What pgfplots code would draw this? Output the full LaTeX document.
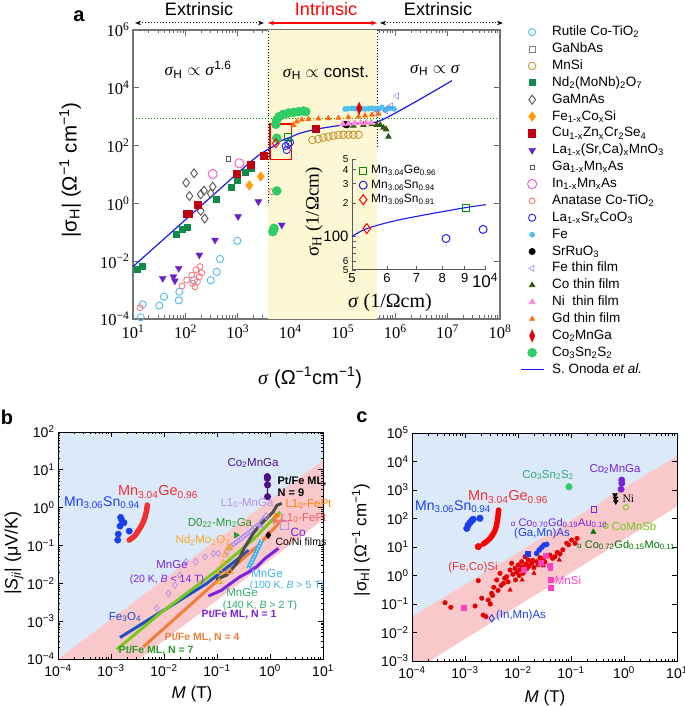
\documentclass[border=0pt]{standalone}
\usepackage{pgfplots}
\pgfplotsset{compat=1.18}
\usepackage{fontspec}
\setmainfont{Liberation Sans}
\newfontfamily\serif{Liberation Serif}
\usetikzlibrary{arrows.meta}
\definecolor{cRut}{HTML}{4FB8F0}
\definecolor{cGray}{HTML}{808080}
\definecolor{cMnSi}{HTML}{C8963C}
\definecolor{cNd}{HTML}{0E8A4A}
\definecolor{cGaMnAs}{HTML}{555555}
\definecolor{cFeCoSi}{HTML}{FFA010}
\definecolor{cCu}{HTML}{C00010}
\definecolor{cLa}{HTML}{6A20C8}
\definecolor{cIn}{HTML}{FF50D0}
\definecolor{cAna}{HTML}{FF7878}
\definecolor{cLaSr}{HTML}{2020F0}
\definecolor{cFe}{HTML}{4FC0F0}
\definecolor{cFeTF}{HTML}{7070F0}
\definecolor{cCoTF}{HTML}{2E5A10}
\definecolor{cNiTF}{HTML}{FF88DD}
\definecolor{cGdTF}{HTML}{FF6A10}
\definecolor{cCo2}{HTML}{E00010}
\definecolor{cCSS}{HTML}{30CC66}
\definecolor{cOnoda}{HTML}{1A1AF0}
\definecolor{cYel}{HTML}{FDF8D4}
\definecolor{cBg}{HTML}{DCE9F9}
\definecolor{cPink}{HTML}{F9C8CA}
\definecolor{cBlue}{HTML}{1A3FF0}
\definecolor{cRed}{HTML}{F03030}
\definecolor{cLav}{HTML}{B490F0}
\definecolor{cPurp}{HTML}{7A22E0}
\definecolor{cDPurp}{HTML}{4B0F8C}
\definecolor{cYG}{HTML}{78C81E}
\definecolor{cOr}{HTML}{F07D3A}
\definecolor{cDG}{HTML}{2A9A2A}
\definecolor{cNdO}{HTML}{F5A623}
\definecolor{cFe3}{HTML}{1F4FC0}
\definecolor{cCyan}{HTML}{3FB2EE}
\definecolor{cMag}{HTML}{FF40C0}
\definecolor{cGreenLab}{HTML}{2EAA70}
\newcommand{\fs}[1]{\fontsize{#1}{#1}\selectfont}
\newcommand{\expl}[1]{\pgfmathtruncatemacro\ee{round(#1)}10\textsuperscript{\ifnum\ee<0 −\number-\ee\else\ee\fi}}
\begin{document}
\begin{tikzpicture}[x=1pt,y=1pt]
\useasboundingbox (0,0) rectangle (685,707);
% ================= PANEL A =================
\begin{axis}[
  at={(133pt,388pt)}, anchor=south west, scale only axis, width=367pt, height=289pt,
  xmode=log, ymode=log, log basis x=10, log basis y=10,
  xmin=10, xmax=1e8, ymin=1e-4, ymax=1e6,
  xtick={1e1,1e2,1e3,1e4,1e5,1e6,1e7,1e8},
  minor xtick={2e1,3e1,4e1,5e1,6e1,7e1,8e1,9e1,2e2,3e2,4e2,5e2,6e2,7e2,8e2,9e2,2e3,3e3,4e3,5e3,6e3,7e3,8e3,9e3,2e4,3e4,4e4,5e4,6e4,7e4,8e4,9e4,2e5,3e5,4e5,5e5,6e5,7e5,8e5,9e5,2e6,3e6,4e6,5e6,6e6,7e6,8e6,9e6,2e7,3e7,4e7,5e7,6e7,7e7,8e7,9e7},
  ytick={1e-4,1e-2,1,1e2,1e4,1e6},
  xticklabel={\serif\expl{\tick}}, yticklabel={\serif\expl{\tick}},
  tick label style={font=\fs{16.5}},
  xticklabel style={yshift=-2pt},
  axis line style={draw=black!55, line width=1.1pt},
  tick style={draw=black!60, line width=0.8pt},
  major tick length=6pt, minor tick length=3.5pt,
  legend style={at={(1,1)}, anchor=north west, xshift=17pt, yshift=7.5pt, draw=none, fill=none,
    font=\fs{13.5}, row sep=1.87pt, column sep=7pt, nodes={inner sep=1pt, text height=10pt, text depth=3pt}},
  legend cell align=left,
  mark options={line width=0.9pt},
]
\addplot[fill=cYel, draw=none, forget plot] coordinates {(3770,1e-4)(4.6e5,1e-4)(4.6e5,1e6)(3770,1e6)} --cycle;
\addplot[color=green!60!black, dotted, line width=1pt, forget plot] coordinates {(10,900)(1e8,900)};
\addplot[black, dotted, line width=0.9pt, forget plot] coordinates {(3770,1)(3770,1e6)};
\addplot[black, dotted, line width=0.9pt, forget plot] coordinates {(4.6e5,89)(4.6e5,1e6)};
\addplot[only marks, mark=o, mark size=3.6pt, color=cRut] coordinates {
(15.3,3.2e-4)(14,1.15e-4)(31.8,2.9e-4)(39,5.9e-4)(76.6,8.8e-4)(74.5,4.4e-4)(146,0.0022)(304,0.0022)(395,0.0043)(457,0.0119)(977,0.051)};
\addlegendentry{Rutile Co-TiO\textsubscript{2}}
\addlegendimage{only marks, mark=square, mark size=3pt, color=cGray}
\addlegendentry{GaNbAs}
\addplot[only marks, mark=o, mark size=3.8pt, color=cMnSi] coordinates {
(26400,156)(34400,169)(42800,188)(53300,203)(66500,220)(82800,233)(103000,238)(128000,238)(160000,238)(200000,238)};
\addlegendentry{MnSi}
\addplot[only marks, mark=square*, mark size=3pt, color=cNd] coordinates {
(12.1,0.0052)(15.3,0.0068)(66,0.085)(89,0.13)(109,0.144)(395,1.42)(765,3.6)(970,6.1)(1370,11.5)(1810,15.8)};
\addlegendentry{Nd\textsubscript{2}(MoNb)\textsubscript{2}O\textsubscript{7}}
\addplot[only marks, mark=diamond, mark size=4.5pt, color=cGaMnAs] coordinates {
(146,11.0)(103,5.2)(119,1.8)(196,2.07)(226,2.75)(332,3.8)(304,2.2)(196,0.55)(233,0.30)};
\addlegendentry{GaMnAs}
\addplot[only marks, mark=diamond*, mark size=4.5pt, color=cFeCoSi] coordinates {(1660,4.2)(2730,8.5)};
\addlegendentry{Fe\textsubscript{1-x}Co\textsubscript{x}Si}
\addplot[only marks, mark=square*, mark size=3.6pt, color=cCu] coordinates {
(1760,21.8)(970,10.4)(174,0.88)(117,0.43)(109,0.43)(3160,43.6)(30700,366)};
\addlegendentry{Cu\textsubscript{1-x}Zn\textsubscript{x}Cr\textsubscript{2}Se\textsubscript{4}}
\addplot[only marks, mark=triangle*, mark size=4pt, mark options={rotate=180}, color=cLa] coordinates {
(2460,1.15)(1010,0.35)(367,0.054)(184,0.0164)(74.5,0.0057)(36.9,0.00256)(59,0.0029)(63,0.0021)(6880,0.179)};
\addlegendentry{La\textsubscript{1-x}(Sr,Ca)\textsubscript{x}MnO\textsubscript{3}}
\addplot[only marks, mark=square, mark size=2.2pt, color=cGaMnAs] coordinates {(670,34)};
\addlegendentry{Ga\textsubscript{1-x}Mn\textsubscript{x}As}
\addplot[only marks, mark=o, mark size=4.6pt, color=cIn] coordinates {(1070,24.4)(332,10.4)};
\addlegendentry{In\textsubscript{1-x}Mn\textsubscript{x}As}
\addplot[only marks, mark=o, mark size=3pt, color=cAna] coordinates {
(13.6,2.45e-4)(86,0.00139)(106,0.0022)(132,0.0033)(159,0.0050)(190,0.0065)(205,0.0040)(184,0.0029)(169,0.00195)(152,0.0013)(138,0.0017)(4430,2.54)};
\addlegendentry{Anatase Co-TiO\textsubscript{2}}
\addplot[only marks, mark=o, mark size=3.6pt, color=cLaSr] coordinates {(8200,97)(9200,111)(9900,130)(8570,70)};
\addlegendentry{La\textsubscript{1-x}Sr\textsubscript{x}CoO\textsubscript{3}}
\addplot[only marks, mark=*, mark size=2.4pt, color=cFe] coordinates {
(111000,1850)(125000,1900)(149000,1950)(175000,1900)(200000,1950)(235000,1900)(267000,1850)(310000,1900)(359000,1950)(410000,1900)(480000,1850)(557000,2110)(644000,1710)(720000,1900)(803000,1950)(958000,1850)};
\addlegendentry{Fe}
\addplot[only marks, mark=*, mark size=3pt, color=black] coordinates {(111000,546)(120000,520)};
\addlegendentry{SrRuO\textsubscript{3}}
\addplot[only marks, mark=triangle, mark size=3.5pt, mark options={rotate=-30}, color=cFeTF] coordinates {
(1.08e6,5200)(828000,2400)(674000,1610)(415000,1310)(480000,1490)};
\addlegendentry{Fe thin film}
\addplot[only marks, mark=triangle*, mark size=3pt, color=cCoTF] coordinates {
(160000,489)(248000,516)(359000,546)(448000,516)(518000,516)(599000,416)(674000,366)(745000,203)};
\addlegendentry{Co thin film}
\addplot[only marks, mark=triangle*, mark size=3.2pt, color=cNiTF] coordinates {
(100000,560)(130000,580)(170000,590)(220000,600)(280000,610)(350000,620)};
\addlegendentry{Ni\ \ thin film}
\addplot[only marks, mark=triangle*, mark size=2.6pt, color=cGdTF] coordinates {
(11500,516)(13300,671)(16600,787)(22100,832)(34400,853)(53300,881)(82800,902)(128000,953)(200000,1000)(267000,1080)(359000,1150)(480000,1240)};
\addlegendentry{Gd thin film}
\addplot[color=cCo2, line width=1pt, forget plot] coordinates {(206000,1430)(206000,2530)};
\addplot[only marks, mark=diamond*, mark size=3.6pt, mark options={yscale=1.7}, color=cCo2] coordinates {(206000,1950)};
\addlegendentry{Co\textsubscript{2}MnGa}
\addplot[only marks, mark=*, mark size=4.3pt, color=cCSS] coordinates {
(5290,546)(5520,770)(6110,1000)(7380,1210)(9200,1340)(11500,1420)(14300,1490)(17800,1570)(19800,1490)(5520,179)(5520,2.7)(4630,0.105)(4910,0.137)};
\addlegendentry{Co\textsubscript{3}Sn\textsubscript{2}S\textsubscript{2}}
\addplot[only marks, mark=square, mark size=3.4pt, color=green!55!black, forget plot] coordinates {(8950,205)};
\addplot[only marks, mark=diamond, mark size=4.5pt, color=red, forget plot] coordinates {(5290,120)};
\addplot[color=red, line width=1.2pt, forget plot] coordinates {(4100,34)(10700,34)(10700,560)(4100,560)(4100,34)};
\addplot[color=cOnoda, line width=1.2pt, smooth, forget plot] coordinates {
(10,0.0065)(1000,11.3)(2130,37)(3000,58)(5000,100)(6420,142)(8790,179)(10050,194)(15000,265)(30700,366)(60000,450)(173000,592)(557000,770)(1.21e7,17600)};
\addlegendimage{legend image code/.code={\draw[draw=cOnoda, line width=1.2pt] (-0.1cm,0cm) -- (0.7cm,0cm);}}
\addlegendentry{S. Onoda \textit{et al.}}
\end{axis}
% ================= INSET =================
\begin{axis}[
  at={(352pt,437pt)}, anchor=south west, scale only axis, width=133pt, height=111pt,
  xmode=log, ymode=log, log basis x=10, log basis y=10,
  xmin=5000, xmax=10000, ymin=50, ymax=500, clip=false,
  axis x line*=bottom, axis y line*=left,
  axis line style={draw=black!65, line width=1pt},
  xtick={5000,6000,7000,8000,9000,10000},
  xticklabels={5,6,7,8,9,{\raisebox{-9pt}{\fs{17}10\textsuperscript{4}}}},
  ytick={50,60,70,80,90,100,200,300,400,500},
  yticklabels={5,6,,,,{\fs{15}100},2,3,4,5},
  tick label style={font=\fs{10}},
  xticklabel style={font=\fs{13}},
  tick style={draw=black!65, line width=0.7pt},
  major tick length=4pt, minor tick length=0pt,
  legend style={at={(0.03,0.98)}, anchor=north west, draw=none, fill=none, font=\fs{12},
    row sep=0pt, column sep=3pt, nodes={inner sep=1pt, text height=9.5pt, text depth=3pt}},
  legend cell align=left,
  mark options={line width=1pt},
]
\addplot[only marks, mark=square, mark size=3.6pt, color=green!55!black] coordinates {(9060,182)};
\addlegendentry{Mn\textsubscript{3.04}Ge\textsubscript{0.96}}
\addplot[only marks, mark=o, mark size=4pt, color=cLaSr] coordinates {(8160,96)(9900,116)};
\addlegendentry{Mn\textsubscript{3.06}Sn\textsubscript{0.94}}
\addplot[only marks, mark=diamond, mark size=5pt, color=red] coordinates {(5400,118)};
\addlegendentry{Mn\textsubscript{3.09}Sn\textsubscript{0.91}}
\addplot[color=cOnoda, line width=1.1pt, smooth, forget plot] coordinates {(5000,100)(5400,118)(6420,142)(8790,179)(10050,194)};
\end{axis}
% ---- panel a texts ----
\node[font=\bfseries\fs{20}] at (79pt,691pt) {a};
\node[font=\fs{18}] at (199pt,698pt) {Extrinsic};
\node[font=\fs{18}, text=red] at (326pt,698pt) {Intrinsic};
\node[font=\fs{18}] at (438pt,698pt) {Extrinsic};
\draw[{Stealth[length=6pt]}-{Stealth[length=6pt]}, dotted, line width=1pt] (135pt,684pt) -- (264pt,684pt);
\draw[{Stealth[length=6pt]}-{Stealth[length=6pt]}, red, line width=1.3pt] (268pt,684pt) -- (377pt,684pt);
\draw[{Stealth[length=6pt]}-{Stealth[length=6pt]}, dotted, line width=1pt] (380pt,684pt) -- (503pt,684pt);
\node[font=\fs{17}] at (198pt,637pt) {{\serif\textit{σ}}\textsubscript{H} $\propto$ {\serif\textit{σ}}\textsuperscript{1.6}};
\node[font=\fs{17}] at (326pt,634pt) {{\serif\textit{σ}}\textsubscript{H} $\propto$ const.};
\node[font=\fs{17}] at (435pt,637pt) {{\serif\textit{σ}}\textsubscript{H} $\propto$ {\serif\textit{σ}}};
\node[rotate=90, font=\fs{20.5}] at (70pt,537pt) {|σ\textsubscript{H}| (Ω\textsuperscript{−1} cm\textsuperscript{−1})};
\node[font=\fs{20}] at (310pt,329pt) {{\serif\textit{σ}} (Ω\textsuperscript{−1}cm\textsuperscript{−1})};
\node[rotate=90, font=\serif\fs{19}] at (314pt,495pt) {σ\textsubscript{H} (1/Ωcm)};
\node[font=\serif\fs{20}] at (390pt,404pt) {\textit{σ} (1/Ωcm)};
% ================= PANEL B =================
\begin{axis}[at={(58pt,48pt)}, anchor=south west, scale only axis, width=265pt, height=227pt,
  xmode=log, ymode=log, log basis x=10, log basis y=10,
  xmin=1e-4, xmax=10, ymin=1e-4, ymax=100,
  xtick={1e-4,1e-3,1e-2,1e-1,1,10}, ytick={1e-4,1e-3,1e-2,1e-1,1,10,100},
  minor xtick={2e-4,3e-4,4e-4,5e-4,6e-4,7e-4,8e-4,9e-4,2e-3,3e-3,4e-3,5e-3,6e-3,7e-3,8e-3,9e-3,2e-2,3e-2,4e-2,5e-2,6e-2,7e-2,8e-2,9e-2,2e-1,3e-1,4e-1,5e-1,6e-1,7e-1,8e-1,9e-1,2,3,4,5,6,7,8,9},
  minor ytick={2e-4,3e-4,4e-4,5e-4,6e-4,7e-4,8e-4,9e-4,2e-3,3e-3,4e-3,5e-3,6e-3,7e-3,8e-3,9e-3,2e-2,3e-2,4e-2,5e-2,6e-2,7e-2,8e-2,9e-2,2e-1,3e-1,4e-1,5e-1,6e-1,7e-1,8e-1,9e-1,2,3,4,5,6,7,8,9,20,30,40,50,60,70,80,90},
  xticklabel={\expl{\tick}}, yticklabel={\expl{\tick}}, tick label style={font=\fs{14}},
  xticklabel style={yshift=-2pt},
  axis background/.style={fill=cBg}, axis on top, major tick length=5pt, minor tick length=2.5pt,
  axis line style={line width=0.9pt}, tick style={line width=0.7pt, black}]
\addplot[fill=cPink, draw=none] coordinates {(1e-4,1e-4)(10,18)(10,0.47)(3.5e-3,1e-4)} --cycle;
\addplot[fill=white, draw=none] coordinates {(3.5e-3,1e-4)(10,0.47)(10,1e-4)} --cycle;
\addplot[color=cFe3, line width=3pt] coordinates {(1.48e-3,3.7e-4)(0.064,9.9e-3)(0.4,0.075)};
\addplot[color=cYG, line width=3pt] coordinates {(1.28e-3,1.78e-4)(8.4e-3,1.6e-3)(0.1,0.022)(0.5,0.15)(1.55,0.78)};
\addplot[color=cOr, line width=3pt] coordinates {(4.07e-3,2.1e-4)(0.1,0.0115)(0.6,0.1)(1.66,0.47)};
\addplot[color=cPurp, line width=3pt] coordinates {(0.0686,4.6e-3)(0.12,6.5e-3)(0.2,0.011)(0.27,0.0148)(0.4,0.02)(0.56,0.0274)(0.8,0.045)(1.44,0.084)};
\addplot[color=cCyan, line width=4.5pt] coordinates {(0.39,0.0248)(0.5,0.05)(0.7,0.139)};
\addplot[color=white, line width=0.8pt, dash pattern=on 1.5pt off 1.5pt] coordinates {(0.39,0.0248)(0.5,0.05)(0.7,0.139)};
\addplot[color=cLav, line width=4.5pt] coordinates {(0.163,0.084)(0.35,0.19)(0.65,0.385)(0.8,0.55)};
\addplot[color=white, line width=0.8pt, dash pattern=on 1.5pt off 1.5pt] coordinates {(0.163,0.084)(0.35,0.19)(0.65,0.385)};
\addplot[color=black!70, line width=3pt] coordinates {(0.096,0.0127)(0.152,0.0165)(0.236,0.0336)(0.337,0.0925)(0.484,0.209)(0.647,0.347)(0.867,0.52)(1.15,0.78)(1.35,1.15)(1.66,1.3)};
\addplot[only marks, mark=diamond, mark size=3.2pt, color=cLav, mark options={fill=white, line width=0.8pt}] coordinates {
(7.3e-3,2.2e-3)(0.0121,5.4e-3)(0.0161,8.95e-3)(0.02,0.0165)(0.026,0.037)(0.0396,0.037)(0.0594,0.05)(0.085,0.061)(0.106,0.061)(0.152,0.068)};
\addplot[only marks, mark=triangle, mark size=3.5pt, color=cNdO, mark options={fill=white, line width=0.9pt}] coordinates {
(0.11,0.011)(0.117,0.020)(0.131,0.034)(0.142,0.056)(0.163,0.084)(0.176,0.092)(0.176,0.02)};
\addplot[only marks, mark=triangle*, mark size=3.5pt, mark options={rotate=-90}, color=cDG] coordinates {(0.228,0.188)};
\addplot[color=cDPurp, line width=1.2pt] coordinates {(0.89,6.6)(0.9,1.95)};
\addplot[only marks, mark=*, mark size=3.3pt, color=cDPurp] coordinates {(0.89,6.6)(0.89,5.95)(0.9,4.0)(0.9,1.95)};
\addplot[only marks, mark=triangle*, mark size=3.5pt, mark options={rotate=-90}, color=orange] coordinates {(1.34,0.6)};
\addplot[only marks, mark=triangle*, mark size=3.5pt, mark options={rotate=-90}, color=cRed!70] coordinates {(1.24,0.45)};
\addplot[only marks, mark=triangle*, mark size=3.5pt, mark options={rotate=-90}, color=cLav] coordinates {(0.65,0.326)};
\addplot[only marks, mark=diamond, mark size=3.5pt, color=cLav, mark options={fill=white, line width=0.9pt}] coordinates {(0.84,0.6)};
\addplot[only marks, mark=square, mark size=4pt, color=cLav, mark options={fill=white, line width=1pt}] coordinates {(1.84,0.347)};
\addplot[only marks, mark=diamond*, mark size=3.5pt, color=black] coordinates {(0.93,0.188)};
\addplot[only marks, mark=*, mark size=3.2pt, color=cBlue] coordinates {
(1.52e-3,0.553)(1.59e-3,0.47)(1.76e-3,0.40)(1.48e-3,0.326)(1.37e-3,0.20)(1.34e-3,0.139)(2.21e-3,0.24)};
\addplot[color=cRed, line width=5.5pt, line cap=round, smooth] coordinates {(2.2e-3,0.139)(2.8e-3,0.18)(3.5e-3,0.283)(4.0e-3,0.4)(4.4e-3,0.575)(4.7e-3,0.85)(4.84e-3,1.17)};
\end{axis}
% ---- panel b texts ----
\node[font=\bfseries\fs{20}] at (7pt,290pt) {b};
\node[rotate=90, font=\fs{18}] at (14pt,154pt) {|\textit{S\textsubscript{ji}}| (μV/K)};
\node[font=\fs{17}] at (192pt,13pt) {\textit{M} (T)};
\node[font=\fs{14}, text=cBlue] at (102pt,204pt) {Mn\textsubscript{3.06}Sn\textsubscript{0.94}};
\node[font=\fs{14.5}, text=cRed] at (158pt,215pt) {Mn\textsubscript{3.04}Ge\textsubscript{0.96}};
\node[font=\fs{11.5}, text=cDPurp] at (253pt,244pt) {Co\textsubscript{2}MnGa};
\node[font=\bfseries\fs{11}, anchor=west] at (274pt,226pt) {Pt/Fe ML,};
\node[font=\bfseries\fs{11}, anchor=west] at (274pt,214pt) {N = 9};
\node[font=\fs{11.5}, text=cLav] at (247pt,204pt) {L1\textsubscript{0}-MnGa};
\node[font=\fs{11.5}, text=orange, anchor=west] at (282pt,203pt) {L1\textsubscript{0}-FePt};
\node[font=\fs{11.5}, text=cRed!80, anchor=west] at (277pt,189pt) {L1\textsubscript{0}-FePt};
\node[font=\fs{12}, text=cPurp, anchor=west] at (287pt,175pt) {Co};
\node[font=\fs{10.5}, anchor=west] at (272pt,165pt) {Co/Ni films};
\node[font=\fs{11.5}, text=cDG] at (220pt,184pt) {D0\textsubscript{22}-Mn\textsubscript{2}Ga};
\node[font=\fs{11.5}, text=cNdO] at (203pt,167pt) {Nd\textsubscript{2}Mo\textsubscript{2}O\textsubscript{7}};
\node[font=\fs{11.5}, text=cPurp] at (172pt,142pt) {MnGe};
\node[font=\fs{10.5}, text=cPurp] at (167pt,127pt) {(20 K, \textit{B} < 14 T)};
\node[font=\fs{11.5}, text=cFe3] at (125pt,90pt) {Fe\textsubscript{3}O\textsubscript{4}};
\node[font=\fs{11.5}, text=cCyan] at (267pt,133pt) {MnGe};
\node[font=\fs{10.5}, text=cCyan] at (287pt,121pt) {(100 K, \textit{B} > 5 T)};
\node[font=\fs{11.5}, text=cGreenLab] at (242pt,114pt) {MnGe};
\node[font=\fs{10.5}, text=cGreenLab] at (260pt,101pt) {(140 K, \textit{B} > 2 T)};
\node[font=\bfseries\fs{10.5}, text=cPurp] at (239pt,92pt) {Pt/Fe ML, N = 1};
\node[font=\bfseries\fs{10.5}, text=cOr] at (202pt,69pt) {Pt/Fe ML, N = 4};
\node[font=\bfseries\fs{10.5}, text=cDG] at (156pt,56pt) {Pt/Fe ML, N = 7};
% ================= PANEL C =================
\begin{axis}[at={(412pt,46pt)}, anchor=south west, scale only axis, width=265pt, height=228pt,
  xmode=log, ymode=log, log basis x=10, log basis y=10,
  xmin=1e-4, xmax=10, ymin=1e-3, ymax=1e5,
  xtick={1e-4,1e-3,1e-2,1e-1,1,10}, ytick={1e-3,1e-2,1e-1,1,10,100,1e3,1e4,1e5},
  minor xtick={2e-4,3e-4,4e-4,5e-4,6e-4,7e-4,8e-4,9e-4,2e-3,3e-3,4e-3,5e-3,6e-3,7e-3,8e-3,9e-3,2e-2,3e-2,4e-2,5e-2,6e-2,7e-2,8e-2,9e-2,2e-1,3e-1,4e-1,5e-1,6e-1,7e-1,8e-1,9e-1,2,3,4,5,6,7,8,9},
  xticklabel={\expl{\tick}}, yticklabel={\expl{\tick}}, tick label style={font=\fs{14}},
  xticklabel style={yshift=-2pt},
  axis background/.style={fill=cBg}, axis on top, major tick length=5pt, minor tick length=2.5pt,
  axis line style={line width=0.9pt}, tick style={line width=0.7pt, black}]
\addplot[fill=cPink, draw=none] coordinates {(1e-4,0.0358)(10,15600)(10,260)(2.2e-4,1e-3)(1e-4,1e-3)} --cycle;
\addplot[fill=white, draw=none] coordinates {(2.2e-4,1e-3)(10,260)(10,1e-3)} --cycle;
\addplot[only marks, mark=*, mark size=2.3pt, color=red!90!black] coordinates {
(4.2e-4,0.111)(5.4e-4,0.077)(1.55e-3,0.085)(1.78e-3,0.66)(2.07e-3,0.16)(2.2e-3,0.041)(2.49e-3,0.036)(2.75e-3,0.138)(3.0e-3,0.1)(3.19e-3,0.237)(3.5e-3,0.385)(3.3e-3,0.2)(3.96e-3,0.695)(4.2e-3,0.3)(4.57e-3,1.19)(4.8e-3,0.45)(5.3e-3,0.53)(5.6e-3,0.8)(6.1e-3,0.91)(6.5e-3,0.6)(7.1e-3,1.56)(7.6e-3,2.68)(8.0e-3,1.1)(8.8e-3,1.79)(9.0e-3,0.7)(9.5e-3,1.3)(0.0101,2.34)(0.0105,1.0)(0.011,1.6)(0.0117,3.05)(0.012,2.0)(0.0125,1.2)(0.0136,4.57)(0.014,2.5)(0.015,1.8)(0.0156,3.5)(0.016,2.2)(0.0181,2.68)(0.019,3.4)(0.02,1.9)(0.0225,3.05)(0.024,2.4)(0.026,4.2)(0.03,3.98)(0.032,3.0)(0.035,5.0)(0.0402,5.2)(0.045,4.0)(0.0499,4.57)(0.055,6.5)(0.062,5.7)(0.07,8.0)(0.083,13.5)(0.09,12)(0.103,17.6)(0.119,13.5)(0.13,20)};
\addplot[only marks, mark=triangle*, mark size=2.6pt, color=red!90!black] coordinates {(7.1e-3,0.31)(0.012,0.7)(0.02,1.2)(0.03,2.2)(0.06,3.5)};
\addplot[only marks, mark=square*, mark size=2.4pt, color=cMag] coordinates {
(9.3e-4,0.0766)(0.0126,1.65)(0.0272,2.8)(0.0333,4.8)(0.0402,2.3)(0.0405,1.94)(0.042,0.695)(0.042,0.385)};
\addplot[only marks, mark=square*, mark size=2.5pt, color=cBlue] coordinates {(0.0153,5.7)};
\addplot[only marks, mark=*, mark size=2.6pt, color=cBlue] coordinates {(0.0225,6.0)(0.0252,7.9)(0.028,9.7)(0.031,11.7)(0.0348,12.4)};
\addplot[only marks, mark=diamond, mark size=3.5pt, color=cBlue, mark options={line width=0.9pt, fill=white}] coordinates {(3.19e-3,0.0314)};
\addplot[only marks, mark=*, mark size=3.3pt, color=cCSS] coordinates {(0.0916,1300)};
\addplot[only marks, mark=*, mark size=3.2pt, color=cPurp] coordinates {(0.906,2240)(0.91,1720)(0.88,1060)};
\addplot[only marks, mark=triangle*, mark size=2.8pt, mark options={rotate=180}, color=black] coordinates {(0.676,668)(0.69,512)(0.7,389)};
\addplot[only marks, mark=o, mark size=2.6pt, color=cYG, mark options={line width=0.9pt}] coordinates {(1.09,247)(0.45,55)};
\addplot[only marks, mark=square, mark size=2.6pt, color=cPurp, mark options={line width=0.8pt}] coordinates {(0.275,210)};
\addplot[only marks, mark=triangle*, mark size=3pt, color=green!45!black] coordinates {(0.264,34)};
\addplot[only marks, mark=*, mark size=3.3pt, color=cBlue] coordinates {(1.08e-3,45)(1.15e-3,59)(1.24e-3,71)(1.34e-3,84)(1.43e-3,94)(1.92e-3,102)};
\addplot[only marks, mark=*, mark size=3.3pt, color=red] coordinates {(1.78e-3,10.3)};
\addplot[color=red, line width=5.5pt, line cap=round, smooth] coordinates {(2.2e-3,12.7)(2.96e-3,20)(3.7e-3,39)(4.1e-3,88)(4.3e-3,199)};
\end{axis}
% ---- panel c texts ----
\node[font=\bfseries\fs{20}] at (362pt,290pt) {c};
\node[rotate=90, font=\fs{17}] at (361pt,167pt) {|σ\textsubscript{H}| (Ω\textsuperscript{−1} cm\textsuperscript{−1})};
\node[font=\fs{17}] at (545pt,9pt) {\textit{M} (T)};
\node[font=\fs{11.5}, text=cGreenLab] at (548pt,232pt) {Co\textsubscript{3}Sn\textsubscript{2}S\textsubscript{2}};
\node[font=\fs{11.5}, text=cPurp] at (615pt,238pt) {Co\textsubscript{2}MnGa};
\node[font=\serif\fs{11.5}, anchor=west] at (619pt,208pt) {Ni};
\node[font=\fs{14.5}, text=cRed] at (508pt,210pt) {Mn\textsubscript{3.04}Ge\textsubscript{0.96}};
\node[font=\fs{14}, text=cBlue] at (453pt,200pt) {Mn\textsubscript{3.06}Sn\textsubscript{0.94}};
\node[font=\fs{11}, text=cPurp] at (559pt,184pt) {{\fs{8}α} Co\textsubscript{0.70}Gd\textsubscript{0.19}Au\textsubscript{0.10}};
\node[font=\fs{11.5}, text=cYG] at (634pt,181pt) {CoMnSb};
\node[font=\fs{11.5}, text=cBlue] at (542pt,173pt) {(Ga,Mn)As};
\node[font=\fs{11}, text=green!45!black] at (626pt,162pt) {{\fs{8}α} Co\textsubscript{0.72}Gd\textsubscript{0.15}Mo\textsubscript{0.11}};
\node[font=\fs{11.5}, text=cRed] at (473pt,139pt) {(Fe,Co)Si};
\node[font=\fs{11.5}, text=cMag] at (568pt,127pt) {MnSi};
\node[font=\fs{11.5}, text=cBlue] at (521pt,91pt) {(In,Mn)As};
\end{tikzpicture}
\end{document}
